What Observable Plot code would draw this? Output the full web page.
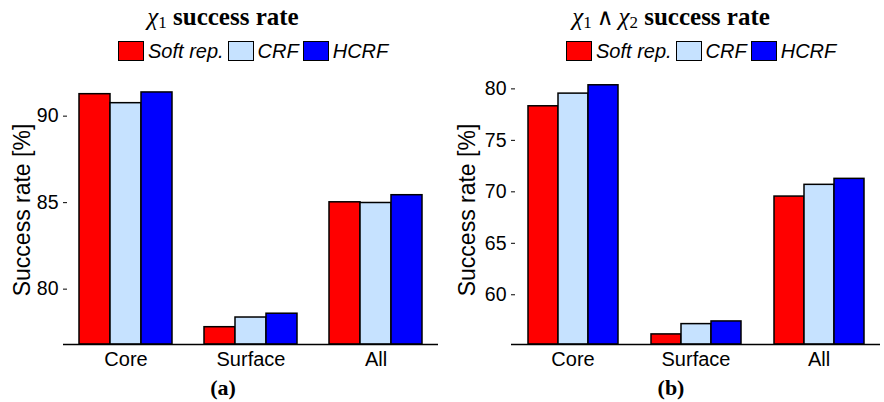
<!DOCTYPE html>
<html><head><meta charset="utf-8">
<script src="https://cdn.jsdelivr.net/npm/d3@7"></script>
<script src="https://cdn.jsdelivr.net/npm/@observablehq/plot@0.6"></script>
<style>
body{margin:0;background:#fff;}
#root{position:relative;width:884px;height:402px;overflow:hidden;font-family:"Liberation Sans",Arial,sans-serif;color:#000;}
.title{position:absolute;top:5px;transform:translateX(-50%);white-space:nowrap;font-family:"Liberation Serif","Times New Roman",serif;font-weight:bold;font-size:25px;line-height:24px;}
.title .m{font-weight:normal;font-style:italic;}
.title .s{font-weight:normal;font-style:normal;font-size:17px;position:relative;top:3px;}
.title .op{font-weight:normal;margin:0 5px;font-family:"DejaVu Serif",serif;font-size:23px;}
.legend{position:absolute;top:41px;display:flex;align-items:center;font-style:italic;font-size:20px;line-height:20px;white-space:nowrap;}
.sw{width:26px;height:20px;box-sizing:border-box;border:1.5px solid #000;margin-right:4px;}
.lt{margin-right:4px;}
.panel{position:absolute;top:70px;}
.sub{position:absolute;top:377px;transform:translateX(-50%);font-family:"Liberation Serif","Times New Roman",serif;font-weight:bold;font-size:22px;line-height:22px;}
</style></head><body><div id="root"></div>
<script>
const categories = ["Core", "Surface", "All"];
const methods = ["Soft rep.", "CRF", "HCRF"];
const colors = ["#ff0000", "#c6e2ff", "#0000ff"];

// (a) chi1 success rate, per category
const chi1Soft = [91.27, 77.80, 85.02];
const chi1CRF  = [90.75, 78.36, 84.98];
const chi1HCRF = [91.37, 78.58, 85.43];
// (b) chi1 ^ chi2 success rate
const chi12Soft = [78.31, 56.15, 69.54];
const chi12CRF  = [79.54, 57.15, 70.68];
const chi12HCRF = [80.35, 57.41, 71.26];

const yDomainA = [76.8, 92.35];
const yTicksA = [80, 85, 90];
const yDomainB = [55.17, 81.3];
const yTicksB = [60, 65, 70, 75, 80];

const root = document.getElementById("root");

function makePanel(series, yDomain, yTicks, marginLeft, labelOffset) {
  const rows = [];
  categories.forEach((c, i) => methods.forEach((m, j) => rows.push({category: c, method: m, value: series[j][i]})));
  return Plot.plot({
    width: 442, height: 300,
    marginLeft, marginRight: 4, marginTop: 5, marginBottom: 26,
    style: {fontFamily: "'Liberation Sans', Arial, sans-serif", fontSize: "19px", color: "#000", background: "transparent"},
    fx: {domain: categories, padding: 0},
    x: {domain: methods, paddingInner: 0, paddingOuter: 0.5, axis: null},
    y: {domain: yDomain},
    color: {domain: methods, range: colors},
    marks: [
      Plot.barY(rows, {fx: "category", x: "method", y1: yDomain[0], y2: "value", fill: "method", stroke: "#000", strokeWidth: 1.5}),
      Plot.ruleY([yDomain[0]], {stroke: "#000", strokeWidth: 1.3}),
      Plot.axisY({ticks: yTicks, tickSize: -4, tickPadding: 9, line: true, label: null, fontSize: 19.5}),
      Plot.axisY({ticks: [], tickSize: 0, label: "Success rate [%]", labelArrow: "none", labelAnchor: "center", labelOffset, fontSize: 23}),
      Plot.axisFx({anchor: "bottom", tickSize: 0, tickPadding: 7, label: null, fontSize: 20})
    ]
  });
}

function addTitle(html, cx) {
  const d = document.createElement("div");
  d.className = "title"; d.style.left = cx + "px"; d.innerHTML = html;
  root.appendChild(d);
}
function addLegend(left) {
  const d = document.createElement("div");
  d.className = "legend"; d.style.left = left + "px";
  methods.forEach((m, i) => {
    const s = document.createElement("div"); s.className = "sw"; s.style.background = colors[i];
    const t = document.createElement("span"); t.className = "lt"; t.textContent = m;
    d.appendChild(s); d.appendChild(t);
  });
  root.appendChild(d);
}
function addSub(text, cx) {
  const d = document.createElement("div");
  d.className = "sub"; d.style.left = cx + "px"; d.textContent = text;
  root.appendChild(d);
}

const pA = makePanel([chi1Soft, chi1CRF, chi1HCRF], yDomainA, yTicksA, 62, 50);
pA.classList.add("panel"); pA.style.left = "0px"; root.appendChild(pA);
const pB = makePanel([chi12Soft, chi12CRF, chi12HCRF], yDomainB, yTicksB, 68, 53);
pB.classList.add("panel"); pB.style.left = "442px"; root.appendChild(pB);

addTitle('<span class="m">χ</span><span class="s">1</span> success rate', 223);
addTitle('<span class="m">χ</span><span class="s">1</span><span class="op">∧</span><span class="m">χ</span><span class="s">2</span> success rate', 671);
addLegend(118);
addLegend(566);
addSub("(a)", 223);
addSub("(b)", 671);
</script></body></html>
